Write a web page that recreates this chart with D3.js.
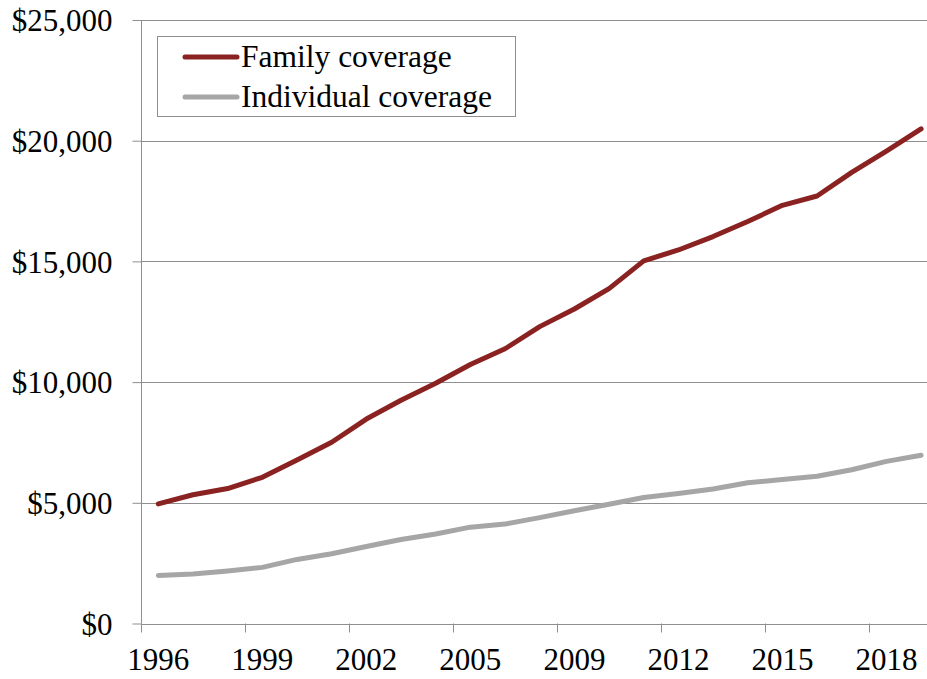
<!DOCTYPE html>
<html>
<head>
<meta charset="utf-8">
<script src="https://cdn.jsdelivr.net/npm/d3@7"></script>
<style>
  body { margin: 0; background: #fff; }
</style>
</head>
<body>
<div id="chart"></div>
<script>
// categories (no 2007 survey)
var years = ["1996","1997","1998","1999","2000","2001","2002","2003","2004","2005","2006",
             "2008","2009","2010","2011","2012","2013","2014","2015","2016","2017","2018","2019"];
var family = [4954,5332,5590,6058,6772,7509,8469,9249,9950,10728,11381,
              12298,13027,13871,15022,15473,16029,16655,17322,17710,18687,19565,20486];
var individual = [1992,2051,2174,2325,2655,2889,3189,3481,3705,3991,4118,
                  4386,4669,4940,5222,5384,5571,5832,5963,6101,6368,6715,6972];
var yTicks = [0, 5000, 10000, 15000, 20000, 25000];
var seriesNames = ["Family coverage", "Individual coverage"];
var seriesColors = ["#8b2222", "#a6a6a6"];

var serif = "'Liberation Serif'";
var width = 927, height = 679;
var plotLeft = 141, plotTop = 20, plotBottom = 623.5;
var bandW = 34.67;

var svg = d3.select("#chart").append("svg")
            .attr("width", width)
            .attr("height", height);

var x = d3.scaleBand()
          .domain(years)
          .range([plotLeft, plotLeft + years.length * bandW])
          .padding(0);

var y = d3.scaleLinear()
          .domain([0, 25000])
          .range([plotBottom, plotTop]);

// gridlines
svg.append("g").selectAll("line")
   .data(yTicks.filter(function(d) { return d > 0; }))
   .enter().append("line")
   .attr("x1", plotLeft).attr("x2", width)
   .attr("y1", function(d) { return Math.round(y(d)) + 0.5; })
   .attr("y2", function(d) { return Math.round(y(d)) + 0.5; })
   .attr("stroke", "#8f8f8f")
   .attr("stroke-width", 1);

// y axis
var yAxis = svg.append("g")
   .attr("transform", "translate(" + (plotLeft + 0.5) + ",0)")
   .call(d3.axisLeft(y)
      .tickValues(yTicks)
      .tickSize(9)
      .tickPadding(20)
      .tickFormat(function(d) { return "$" + d3.format(",")(d); }));
yAxis.select(".domain").attr("stroke", "#8f8f8f").attr("d", "M0," + plotTop + "V" + plotBottom);
yAxis.selectAll(".tick line").attr("stroke", "#8f8f8f");
yAxis.selectAll(".tick text")
     .style("font-family", serif)
     .style("font-size", "31px")
     .attr("fill", "#000")
     .attr("dy", "0.35em");

// x axis
var xAxis = svg.append("g");
xAxis.append("line")
     .attr("x1", plotLeft).attr("x2", width)
     .attr("y1", Math.round(plotBottom) + 0.5).attr("y2", Math.round(plotBottom) + 0.5)
     .attr("stroke", "#8f8f8f");
var labelled = years.filter(function(d, i) { return i % 3 === 0; });
xAxis.selectAll("line.tick")
     .data(labelled)
     .enter().append("line")
     .attr("class", "tick")
     .attr("x1", function(d) { return Math.round(x(d)) + 0.5; })
     .attr("x2", function(d) { return Math.round(x(d)) + 0.5; })
     .attr("y1", plotBottom).attr("y2", plotBottom + 9)
     .attr("stroke", "#8f8f8f");
xAxis.selectAll("text")
     .data(labelled)
     .enter().append("text")
     .attr("x", function(d) { return x(d) + x.bandwidth() / 2; })
     .attr("y", 670)
     .attr("text-anchor", "middle")
     .style("font-family", serif)
     .style("font-size", "31px")
     .text(function(d) { return d; });

// lines
var line = d3.line()
   .x(function(d, i) { return x(years[i]) + x.bandwidth() / 2; })
   .y(function(d) { return y(d); });

[family, individual].forEach(function(s, k) {
  svg.append("path")
     .datum(s)
     .attr("d", line)
     .attr("fill", "none")
     .attr("stroke", seriesColors[k])
     .attr("stroke-width", 5)
     .attr("stroke-linejoin", "round")
     .attr("stroke-linecap", "round");
});

// legend
var legend = svg.append("g");
legend.append("rect")
      .attr("x", 157.5).attr("y", 36.5)
      .attr("width", 358).attr("height", 80)
      .attr("fill", "#fff")
      .attr("stroke", "#8f8f8f");
seriesNames.forEach(function(name, k) {
  var cy = 57 + k * 40;
  legend.append("line")
        .attr("x1", 185).attr("x2", 237)
        .attr("y1", cy).attr("y2", cy)
        .attr("stroke", seriesColors[k])
        .attr("stroke-width", 5)
        .attr("stroke-linecap", "round");
  legend.append("text")
        .attr("x", 241).attr("y", cy + 10)
        .style("font-family", serif)
        .style("font-size", "31.5px")
        .text(name);
});
</script>
</body>
</html>
